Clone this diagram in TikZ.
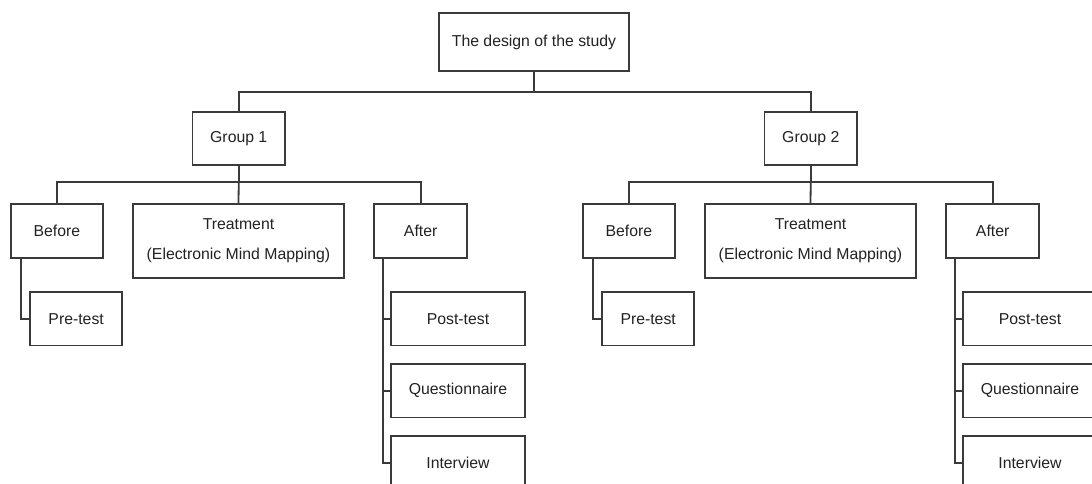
\documentclass[tikz,border=0pt]{standalone}
\usepackage{fontspec}
\setmainfont{Liberation Sans}
\begin{document}
\begin{tikzpicture}[x=1pt,y=-1pt,
  box/.style={draw=linegray,line width=1.8pt,fill=white,inner sep=0pt,text=textgray,
    font=\fontsize{15.8pt}{19pt}\selectfont,align=center},
  conn/.style={draw=linegray,line width=1.8pt}]
\definecolor{linegray}{HTML}{3A3A3A}
\definecolor{textgray}{HTML}{222222}
\useasboundingbox (0,0) rectangle (1092,484);
\clip (0,0) rectangle (1092,484);
\fill[white] (0,0) rectangle (1092,484);
% top
\node[box,minimum width=190pt,minimum height=58pt] (top) at (534,42) {The design of the study};
\coordinate (j0) at (534,92);
% groups
\foreach \g/\dx in {1/0,2/572}{
  \node[box,minimum width=92.5pt,minimum height=53pt] (g\g) at (238.75+\dx,138.5) {Group \g};
  \node[box,minimum width=92.3pt,minimum height=54pt] (b\g) at (56.85+\dx,231) {Before};
  \node[box,minimum width=210.4pt,minimum height=73.7pt] (t\g) at (238.5+\dx,240.85) {Treatment\\[10.3pt](Electronic Mind Mapping)};
  \node[box,minimum width=92.7pt,minimum height=54pt] (a\g) at (420.65+\dx,231) {After};
  \node[box,minimum width=92.3pt,minimum height=53.5pt] (p\g) at (76.15+\dx,318.75) {Pre-test};
  \node[box,minimum width=134pt,minimum height=53.5pt] (post\g) at (458+\dx,318.75) {Post-test};
  \node[box,minimum width=134pt,minimum height=53.5pt] (q\g) at (458+\dx,390.75) {Questionnaire};
  \node[box,minimum width=134pt,minimum height=53.5pt] (i\g) at (458+\dx,462.75) {Interview};
  \coordinate (j\g) at (238.75+\dx,182);
  \coordinate (bs\g) at (20.7+\dx,258);
  \coordinate (as\g) at (382.7+\dx,258);
  \draw[conn] (g\g.south) -- (j\g);
  \draw[conn] (j\g) -- (t\g.north);
  \draw[conn] (b\g.north) |- (j\g) -| (a\g.north);
  \draw[conn] (bs\g) |- (p\g.west);
  \draw[conn] (as\g) |- (i\g.west);
  \draw[conn] (as\g |- post\g.west) -- (post\g.west);
  \draw[conn] (as\g |- q\g.west) -- (q\g.west);
}
\draw[conn] (top.south) -- (j0);
\draw[conn] (g1.north) |- (j0) -| (g2.north);
\end{tikzpicture}
\end{document}
